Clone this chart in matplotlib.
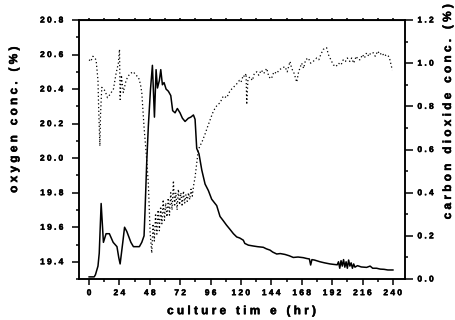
import numpy as np
from matplotlib import pyplot as plt
from matplotlib.ticker import MultipleLocator
import matplotlib.patheffects as pe

# oxygen concentration (%), dotted, left axis
time_o2 = [0, 1.3, 3, 5.5, 7, 7.5, 8.5, 9, 10, 12.6,
           14.5, 16.6, 19.2, 21.3, 23.1, 24, 24.5, 25.5, 27, 29.2,
           30.5, 32.3, 35, 37, 38.9, 40.5, 41.6, 43.4, 45, 45.5,
           46.8, 48.2, 49.5, 50.5, 51.5, 52.5, 53.5, 54.5, 55.5, 56.5,
           57.5, 58.5, 59.5, 60.5, 61.5, 62.5, 63.5, 64.5, 65.5, 66.6,
           67.5, 68.5, 69.5, 70.5, 71.5, 72.5, 73.5, 74.5, 75.5, 76.5,
           77.5, 78.5, 79.5, 80.5, 81.5, 82.5, 83.7, 85, 86.3, 87.6,
           89.5, 91.6, 93.5, 95.5, 97.5, 99.5, 101.5, 103.4, 106, 108.7,
           111.3, 114, 116.6, 118.7, 120, 121.8, 123, 124, 124.5, 125.5,
           127, 129, 130.5, 132.4, 134, 136, 138, 140.3, 142, 144,
           146, 148.2, 150, 152, 154.7, 156.5, 158.7, 160, 162, 164,
           165.5, 167.9, 169.5, 171, 173.2, 175, 177, 179.8, 181.5, 183,
           185, 187.6, 189, 191.6, 193, 195, 197, 199, 200.8, 202.5,
           204, 206, 207.4, 209, 211, 212.5, 214, 216, 217.5, 219.2,
           221, 222.5, 224.5, 226, 228, 229.7, 231.5, 233, 235, 236.5,
           237.6, 239.5]
oxygen = [20.57, 20.56, 20.59, 20.57, 20.45, 20.30, 20.07, 20.25, 20.41, 20.39,
          20.35, 20.37, 20.40, 20.49, 20.55, 20.63, 20.34, 20.48, 20.38, 20.45,
          20.47, 20.49, 20.50, 20.48, 20.47, 20.43, 20.38, 20.18, 20.03, 19.99,
          19.85, 19.57, 19.45, 19.62, 19.52, 19.68, 19.56, 19.70, 19.58, 19.72,
          19.62, 19.76, 19.64, 19.74, 19.66, 19.77, 19.67, 19.80, 19.70, 19.87,
          19.72, 19.80, 19.70, 19.82, 19.73, 19.80, 19.72, 19.81, 19.74, 19.79,
          19.75, 19.80, 19.76, 19.82, 19.78, 19.84, 19.89, 19.97, 20.05, 20.07,
          20.10, 20.14, 20.18, 20.22, 20.26, 20.29, 20.31, 20.32, 20.36, 20.35,
          20.39, 20.41, 20.43, 20.45, 20.44, 20.48, 20.47, 20.49, 20.31, 20.46,
          20.47, 20.45, 20.49, 20.50, 20.48, 20.51, 20.49, 20.52, 20.47, 20.46,
          20.50, 20.49, 20.51, 20.52, 20.53, 20.50, 20.56, 20.52, 20.49, 20.44,
          20.50, 20.55, 20.52, 20.57, 20.58, 20.55, 20.56, 20.58, 20.57, 20.60,
          20.63, 20.64, 20.60, 20.56, 20.54, 20.53, 20.55, 20.54, 20.57, 20.56,
          20.58, 20.56, 20.58, 20.55, 20.59, 20.57, 20.57, 20.60, 20.58, 20.61,
          20.59, 20.61, 20.61, 20.59, 20.62, 20.60, 20.61, 20.59, 20.60, 20.59,
          20.57, 20.51]

# carbon dioxide concentration (%), solid, right axis
time_co2 = [0, 4, 5, 6, 7, 8, 9.5, 10.5, 11.3, 13.4,
            16, 19, 20.5, 22, 23.4, 24.5, 26.6, 28, 29.8, 33,
            35, 39.7, 41.6, 43.4, 44.2, 45.5, 46.8, 48.5, 50, 51.6,
            52.9, 54, 55.5, 56.6, 57.9, 59.2, 60.8, 62.6, 64.5, 66,
            67.9, 69.7, 71.8, 73.7, 75.8, 78.4, 80.3, 82.4, 83.7, 85,
            86.8, 89, 91.6, 94.2, 96.8, 100.8, 103.4, 106, 108.5, 111.3,
            114, 116.6, 119, 121.8, 123, 125.8, 129.7, 133, 137.6, 140,
            142.9, 145, 148.2, 151, 154.7, 158, 161.3, 165, 169.2, 172,
            174, 175, 176, 178, 182.4, 186, 190.3, 193, 196, 197,
            198, 199, 200, 201, 202, 203, 204, 205, 206, 207,
            208, 209, 210, 212, 215, 219.2, 222, 224, 227.1, 230,
            233, 236, 240]
co2 = [0.01, 0.01, 0.02, 0.04, 0.06, 0.12, 0.35, 0.25, 0.17, 0.21,
       0.21, 0.17, 0.16, 0.15, 0.10, 0.07, 0.17, 0.24, 0.22, 0.17,
       0.15, 0.15, 0.17, 0.20, 0.32, 0.54, 0.71, 0.88, 0.99, 0.75,
       0.97, 0.885, 0.92, 0.97, 0.90, 0.91, 0.88, 0.87, 0.85, 0.78,
       0.77, 0.79, 0.77, 0.745, 0.73, 0.745, 0.75, 0.76, 0.74, 0.605,
       0.58, 0.505, 0.44, 0.41, 0.37, 0.34, 0.29, 0.27, 0.25, 0.23,
       0.21, 0.195, 0.19, 0.18, 0.165, 0.157, 0.153, 0.15, 0.147, 0.14,
       0.134, 0.125, 0.116, 0.118, 0.114, 0.108, 0.10, 0.102, 0.099, 0.095,
       0.093, 0.065, 0.09, 0.088, 0.08, 0.075, 0.07, 0.068, 0.066, 0.08,
       0.05, 0.085, 0.06, 0.09, 0.055, 0.08, 0.05, 0.088, 0.06, 0.075,
       0.05, 0.07, 0.055, 0.062, 0.056, 0.054, 0.06, 0.05, 0.05, 0.046,
       0.045, 0.042, 0.042]

x_ticks = [0, 24, 48, 72, 96, 120, 144, 168, 192, 216, 240]
o2_ticks = [19.4, 19.6, 19.8, 20.0, 20.2, 20.4, 20.6, 20.8]
co2_ticks = [0.0, 0.2, 0.4, 0.6, 0.8, 1.0, 1.2]


def spaced(s):
    # letter-spaced text like the original figure
    return '   '.join(' '.join(w) for w in s.split(' '))


plt.rcParams['font.family'] = ['Liberation Sans', 'DejaVu Sans']
plt.rcParams['font.weight'] = 'bold'
heavy = [pe.withStroke(linewidth=0.35, foreground='black')]

fig = plt.figure(figsize=(4.55, 3.2), dpi=100)
ax = fig.add_axes([0.1736, 0.128, 0.7164, 0.8095])
ax2 = ax.twinx()

ax.plot(time_o2, oxygen, color='black', linestyle=(0, (1, 2)), linewidth=0.9)
ax2.plot(time_co2, co2, color='black', linewidth=1.1)

ax.set_xlim(-8, 249.5)
ax.set_ylim(19.3, 20.8)
ax2.set_ylim(0, 1.2)

ax.set_xticks(x_ticks)
ax.set_xticklabels([spaced(str(t)) for t in x_ticks])
ax.xaxis.set_minor_locator(MultipleLocator(12))
ax.set_yticks(o2_ticks)
ax.set_yticklabels([spaced('%.1f' % v) for v in o2_ticks])
ax.yaxis.set_minor_locator(MultipleLocator(0.1))
ax2.set_yticks(co2_ticks)
ax2.set_yticklabels([spaced('%.1f' % v) for v in co2_ticks])
ax2.yaxis.set_minor_locator(MultipleLocator(0.1))

for a in (ax, ax2):
    for sp in a.spines.values():
        sp.set_linewidth(1.1)

ax.tick_params(axis='x', which='major', direction='out', length=4, width=1.1,
               labelsize=6, pad=4)
ax.tick_params(axis='x', which='minor', direction='out', length=2.5, width=1.1)
ax.tick_params(axis='y', which='major', direction='out', length=5, width=1.1,
               labelsize=6, pad=6)
ax.tick_params(axis='y', which='minor', direction='out', length=2.5, width=1.1)
ax2.tick_params(axis='y', which='major', direction='out', length=6, width=1.1,
                labelsize=6, pad=3)
ax2.tick_params(axis='y', which='minor', direction='out', length=2.5, width=1.1)

for lab in ax.get_xticklabels() + ax.get_yticklabels() + ax2.get_yticklabels():
    lab.set_fontweight('bold')
    lab.set_path_effects(heavy)

top = ax.secondary_xaxis('top')
top.set_xticks(np.arange(0, 241, 12))
top.set_xticklabels([])
top.tick_params(direction='out', length=1.5, width=1.1)

label_kw = dict(transform=ax.transAxes, ha='center', va='center',
                fontsize=8.5, fontweight='bold', path_effects=heavy)
ax.text(0.498, -0.124, spaced('culture tim e (hr)'), **label_kw)
ax.text(-0.199, 0.614, spaced('oxygen conc. (%)'), rotation=90, **label_kw)
ax.text(1.132, 0.645, spaced('carbon dioxide conc. (%)'), rotation=90, **label_kw)

fig.savefig('out.png', dpi=100)
